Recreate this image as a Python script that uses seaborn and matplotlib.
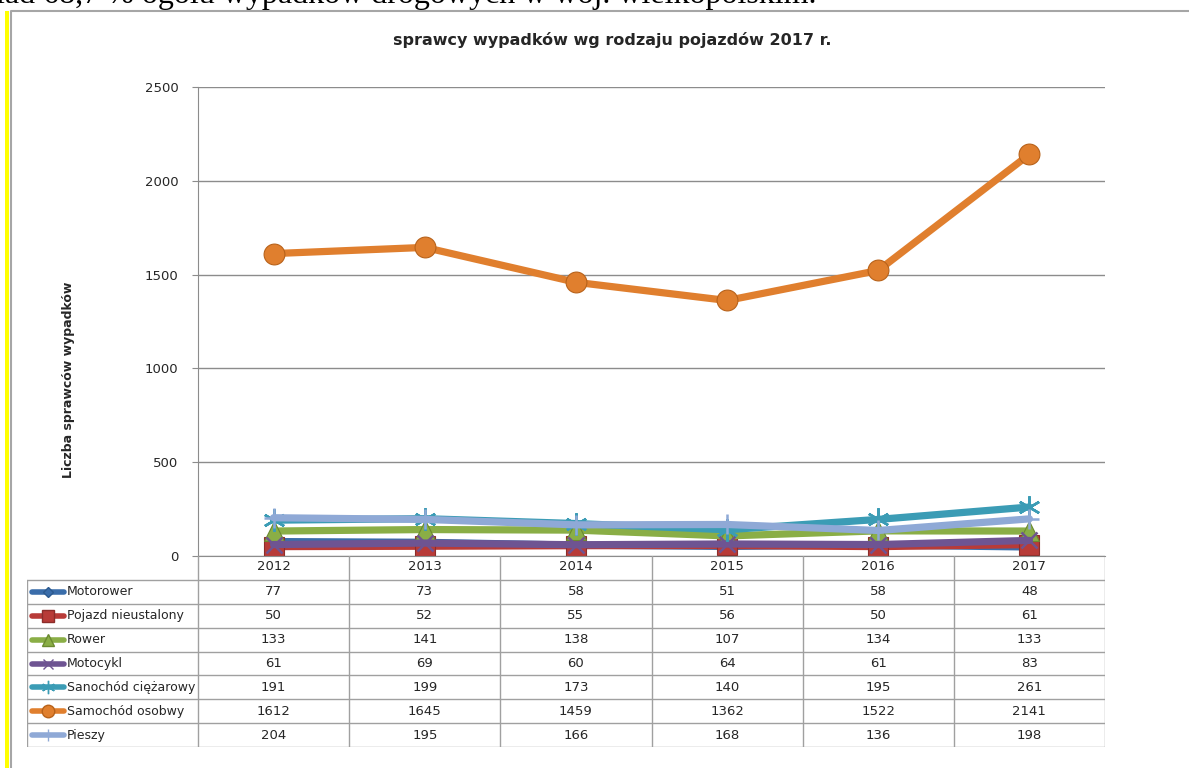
import numpy as np
import pandas as pd
import seaborn as sns
import matplotlib.pyplot as plt
from matplotlib.lines import Line2D

# Dane z wykresu
years = [2012, 2013, 2014, 2015, 2016, 2017]
motorower = [77, 73, 58, 51, 58, 48]
pojazd_nieustalony = [50, 52, 55, 56, 50, 61]
rower = [133, 141, 138, 107, 134, 133]
motocykl = [61, 69, 60, 64, 61, 83]
ciezarowy = [191, 199, 173, 140, 195, 261]
osobowy = [1612, 1645, 1459, 1362, 1522, 2141]
pieszy = [204, 195, 166, 168, 136, 198]

series_names = ['Motorower', 'Pojazd nieustalony', 'Rower', 'Motocykl',
                'Sanochód ciężarowy', 'Samochód osobwy', 'Pieszy']
series_values = [motorower, pojazd_nieustalony, rower, motocykl, ciezarowy, osobowy, pieszy]
colors = ['#3A6DAA', '#B83B38', '#8AAE46', '#6E5492', '#3B9CB5', '#E07F2E', '#8FA9D6']
edge_colors = ['#2C5A8F', '#8C2D2A', '#6B8A30', '#5A4480', '#2A8AA6', '#B8621A', '#6F8FBF']
markers = ['D', 's', '^', 'x', (6, 2, 0), 'o', '+']
marker_sizes = [9, 14, 14, 12, 16, 15, 14]

sns.set_style('white')
plt.rcParams['font.family'] = ['DejaVu Sans']

W, H = 1189, 768
fig = plt.figure(figsize=(W / 100, H / 100), dpi=100)
fig.patch.set_facecolor('white')

def px_axes(x0, y0, x1, y1):
    return fig.add_axes([x0 / W, 1 - y1 / H, (x1 - x0) / W, (y1 - y0) / H])

def is_line_marker(m):
    return m in ('x', '+') or isinstance(m, tuple)

# Ramka wykresu i żółty pasek
bg = fig.add_axes([0, 0, 1, 1], zorder=-5)
bg.set_xlim(0, W)
bg.set_ylim(H, 0)
bg.axis('off')
bg.fill_between([5, 9], 11, H, color='#FFFF00', lw=0)
bg.plot([11, 11, W], [H, 11, 11], color='#A6A6A6', lw=1.5)
bg.text(-4, 3, 'ład 68,7 % ogółu wypadków drogowych w woj. wielkopolskim.',
        fontsize=23, family='Liberation Serif', ha='left', va='baseline', color='black')

# Główny wykres
ax = px_axes(198, 87, 1105, 556)
for name, vals, c, ec, m, ms in zip(series_names, series_values, colors, edge_colors, markers, marker_sizes):
    df = pd.DataFrame({'rok': years, 'wartosc': vals})
    line_m = is_line_marker(m)
    sns.lineplot(data=df, x='rok', y='wartosc', ax=ax, color=c, lw=5.2,
                 marker=m, markersize=ms, markeredgecolor=c if line_m else ec,
                 markeredgewidth=1.8 if line_m else 0.8, solid_capstyle='round')
ax.set_xlim(years[0] - 0.5, years[-1] + 0.5)
ax.set_ylim(0, 2500)
ax.set_yticks(np.arange(0, 2501, 500))
ax.set_xticks([])
ax.set_xlabel('')
ax.set_ylabel('Liczba sprawców wypadków', fontsize=9, fontweight='bold')
ax.yaxis.set_label_coords(-0.136, 0.375)
ax.grid(axis='y', color='#8C8C8C', lw=1)
ax.tick_params(axis='y', labelsize=9.5, length=4, pad=10, color='#8C8C8C', direction='out', left=True)
for s in ['top', 'right']:
    ax.spines[s].set_visible(False)
ax.spines['left'].set_color('#8C8C8C')
ax.spines['bottom'].set_color('#8C8C8C')
if ax.get_legend():
    ax.get_legend().remove()
fig.text(612 / W, 1 - 45 / H, 'sprawcy wypadków wg rodzaju pojazdów 2017 r.', fontsize=11.5,
         fontweight='bold', ha='center', va='baseline')

# Tabela danych
tab = px_axes(27, 556, 1105, 747)
tab.set_xlim(27, 1105)
tab.set_ylim(747, 556)
tab.axis('off')
col_edges = np.linspace(198, 1105, len(years) + 1)
row_top = 580
row_h = (747 - row_top) / len(series_names)
gc = '#A0A0A0'
for xe in col_edges:
    tab.plot([xe, xe], [556, 747], color=gc, lw=1)
tab.plot([27, 27], [row_top, 747], color=gc, lw=1)
for i in range(len(series_names) + 1):
    yy = row_top + i * row_h
    tab.plot([27, 1105], [yy, yy], color=gc, lw=1)
for j, yr in enumerate(years):
    xc = (col_edges[j] + col_edges[j + 1]) / 2
    tab.text(xc, 567, str(yr), ha='center', va='center', fontsize=9.5)
for i, (name, vals, c, ec, m, ms) in enumerate(zip(series_names, series_values, colors, edge_colors, markers, marker_sizes)):
    yc = row_top + (i + 0.5) * row_h
    line_m = is_line_marker(m)
    tab.add_line(Line2D([32, 64], [yc, yc], color=c, lw=4, solid_capstyle='round'))
    tab.add_line(Line2D([48], [yc], marker=m, markersize=ms * 0.6, color=c,
                        markeredgecolor=c if line_m else ec, lw=0))
    tab.text(67, yc, name, ha='left', va='center', fontsize=9)
    for j, v in enumerate(vals):
        xc = (col_edges[j] + col_edges[j + 1]) / 2
        tab.text(xc, yc, str(v), ha='center', va='center', fontsize=9.5)

fig.savefig('out.png', dpi=100)
